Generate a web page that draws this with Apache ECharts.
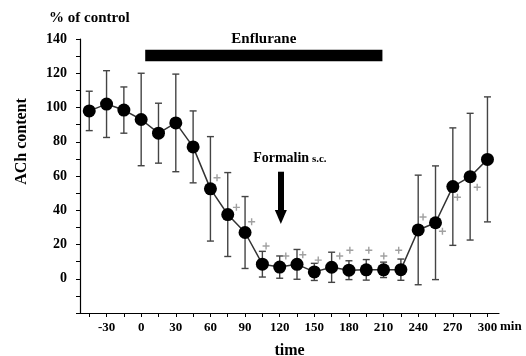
<!DOCTYPE html>
<html>
<head>
<meta charset="utf-8">
<script src="https://cdn.jsdelivr.net/npm/echarts@6/dist/echarts.min.js"></script>
<style>html,body{margin:0;padding:0;background:#fff;}#c{width:526px;height:356px;}</style>
</head>
<body>
<div id="c"></div>
<script>
// time points (min)
var times = [-45, -30, -15, 0, 15, 30, 45, 60, 75, 90, 105, 120, 135, 150, 165, 180, 195, 210, 225, 240, 255, 270, 285, 300];
// ACh content, % of control (mean)
var means = [98, 102, 98.5, 93, 85, 91, 77, 52.5, 37.5, 27, 8.5, 6.8, 8.4, 4, 6.7, 5, 5.2, 5.2, 5.3, 28.5, 32.7, 53.8, 59.6, 69.7];
// error (+/-)
var errs = [11.5, 19.5, 13.5, 27, 17.5, 28.5, 21, 30.5, 24.5, 21, 7.5, 6.5, 8.7, 5, 8.8, 5.5, 6, 4.5, 6.2, 32, 33.2, 34.3, 37, 36.5];
// "+" markers
var plusTimes = [65.7, 82.5, 95.7, 108.2, 125.3, 140, 153.4, 172, 180.8, 197.2, 210.2, 223.1, 244.2, 261, 274, 291.1];
var plusValues = [59, 41.7, 33.3, 19.1, 13.3, 14, 10.9, 13.3, 16.6, 16.6, 13.3, 16.6, 36.1, 27.7, 47.6, 53.4];
// axis ticks
var xTickValues = [-45, -30, -15, 0, 15, 30, 45, 60, 75, 90, 105, 120, 135, 150, 165, 180, 195, 210, 225, 240, 255, 270, 285, 300];
var xLabelValues = [-30, 0, 30, 60, 90, 120, 150, 180, 210, 240, 270, 300];
// annotations
var enfluraneSpan = [3.5, 209];
var enfluraneLevel = [127, 133.7];
var formalinTime = 121;
var formalinArrow = [62.5, 36.1];

var FONT = '"Liberation Serif", "DejaVu Serif", serif';
var chart = echarts.init(document.getElementById('c'));

var lineData = times.map(function (t, i) { return [t, means[i]]; });
var errData = times.map(function (t, i) { return [t, means[i], errs[i]]; });
var plusData = plusTimes.map(function (t, i) { return [t, plusValues[i]]; });

chart.setOption({
  animation: false,
  backgroundColor: '#fff',
  title: [
    { text: '% of control', left: 44, top: 6, textStyle: { fontFamily: FONT, fontWeight: 'bold', fontSize: 15, color: '#000' } },
    { text: 'min', left: 495, top: 315, textStyle: { fontFamily: FONT, fontWeight: 'bold', fontSize: 13, color: '#000' } }
  ],
  grid: { left: 80, right: 27, top: 39, bottom: 43, containLabel: false, outerBoundsMode: 'none' },
  xAxis: {
    type: 'value', min: -53, max: 310,
    name: 'time', nameLocation: 'middle', nameGap: 30,
    nameTextStyle: { fontFamily: FONT, fontWeight: 'bold', fontSize: 16, color: '#000' },
    splitLine: { show: false },
    axisLine: { onZero: false, lineStyle: { color: '#000', width: 1.2 } },
    axisTick: { show: true, length: 4, customValues: xTickValues, lineStyle: { color: '#000' } },
    axisLabel: { customValues: xLabelValues, margin: 8, fontFamily: FONT, fontWeight: 'bold', fontSize: 13, color: '#000' }
  },
  yAxis: {
    type: 'value', min: -20, max: 140, interval: 10,
    name: 'ACh content', nameLocation: 'middle', nameGap: 50, nameRotate: 90,
    nameTextStyle: { fontFamily: FONT, fontWeight: 'bold', fontSize: 16, color: '#000', padding: [0, 0, 0, 69] },
    splitLine: { show: false },
    axisLine: { show: true, onZero: false, lineStyle: { color: '#000', width: 1.2 } },
    axisTick: { show: true, length: 4, lineStyle: { color: '#000' } },
    axisLabel: {
      margin: 13, fontFamily: FONT, fontWeight: 'bold', fontSize: 14, color: '#000',
      formatter: function (v) { return (v >= 0 && v % 20 === 0) ? String(v) : ''; }
    }
  },
  series: [
    {
      type: 'custom', z: 1, silent: true,
      data: errData,
      renderItem: function (params, api) {
        var t = api.value(0), m = api.value(1), e = api.value(2);
        var top = api.coord([t, m + e]);
        var bot = api.coord([t, m - e]);
        var hw = 3.5;
        var st = { stroke: '#444', lineWidth: 1.4 };
        return {
          type: 'group',
          children: [
            { type: 'line', shape: { x1: top[0], y1: top[1], x2: bot[0], y2: bot[1] }, style: st },
            { type: 'line', shape: { x1: top[0] - hw, y1: top[1], x2: top[0] + hw, y2: top[1] }, style: st },
            { type: 'line', shape: { x1: bot[0] - hw, y1: bot[1], x2: bot[0] + hw, y2: bot[1] }, style: st }
          ]
        };
      }
    },
    {
      type: 'line', z: 3, silent: true,
      data: lineData,
      symbol: 'circle', symbolSize: 13,
      itemStyle: { color: '#000' },
      lineStyle: { color: '#333', width: 1.5 },
      markArea: {
        silent: true,
        itemStyle: { color: '#000' },
        label: { show: true, position: 'top', distance: 3, formatter: 'Enflurane', fontFamily: FONT, fontWeight: 'bold', fontSize: 15, color: '#000' },
        data: [[{ coord: [enfluraneSpan[0], enfluraneLevel[0]] }, { coord: [enfluraneSpan[1], enfluraneLevel[1]] }]]
      },
      markLine: {
        silent: true,
        symbol: ['none', 'triangle'],
        symbolSize: [12, 14],
        lineStyle: { color: '#000', width: 6, type: 'solid' },
        label: {
          show: true, position: 'start', distance: 6,
          formatter: '{a|Formalin}{b| s.c.}',
          padding: [0, 0, 0, 18],
          rich: {
            a: { fontFamily: FONT, fontWeight: 'bold', fontSize: 14, color: '#000' },
            b: { fontFamily: FONT, fontWeight: 'bold', fontSize: 11, color: '#000' }
          }
        },
        data: [[{ coord: [formalinTime, formalinArrow[0]] }, { coord: [formalinTime, formalinArrow[1]] }]]
      }
    },
    {
      type: 'scatter', z: 2, silent: true,
      data: plusData,
      symbol: 'path://M-1,-5H1V-1H5V1H1V5H-1V1H-5V-1H-1Z',
      symbolSize: 7,
      itemStyle: { color: '#888' }
    }
  ]
});
</script>
</body>
</html>
